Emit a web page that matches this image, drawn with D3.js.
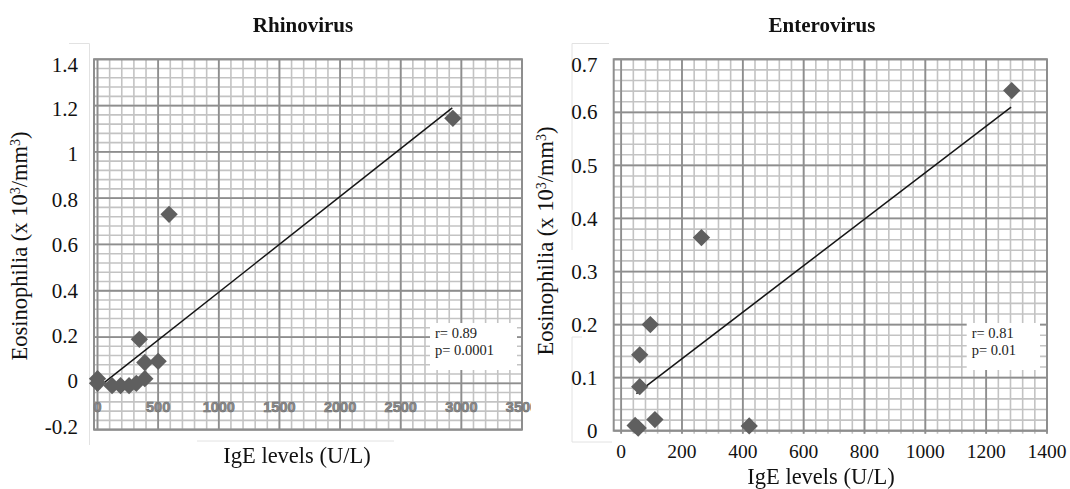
<!DOCTYPE html>
<html><head><meta charset="utf-8">
<script src="https://cdn.jsdelivr.net/npm/d3@7"></script>
<style>body{margin:0;background:#fff} svg{display:block}</style>
</head><body>
<svg id="chart" width="1070" height="489"></svg>
<script>
// ---------- data ----------
const rhinoIgE = [2930, 590, 345, 390, 500, 0, 0, 120, 190, 260, 320, 390];
const rhinoEos = [1.145, 0.73, 0.19, 0.09, 0.095, 0.02, 0.0, -0.01, -0.01, -0.01, 0.0, 0.02];
const rhinoTrendIgE = [0, 2925];
const rhinoTrendEos = [-0.02, 1.19];
const enteroIgE = [1284, 264, 96, 61, 61, 46, 56, 111, 421];
const enteroEos = [0.641, 0.364, 0.2, 0.143, 0.083, 0.01, 0.005, 0.021, 0.009];
const enteroTrendIgE = [50, 1282];
const enteroTrendEos = [0.07, 0.61];
const rhinoXTicks = [0, 500, 1000, 1500, 2000, 2500, 3000, 3500];
const rhinoYTicks = [1.4, 1.2, 1, 0.8, 0.6, 0.4, 0.2, 0, -0.2];
const enteroXTicks = [0, 200, 400, 600, 800, 1000, 1200, 1400];
const enteroYTicks = [0.7, 0.6, 0.5, 0.4, 0.3, 0.2, 0.1, 0];
const titles = ["Rhinovirus", "Enterovirus"];
const statLines = [["r= 0.89", "p= 0.0001"], ["r= 0.81", "p= 0.01"]];
const xTitle = "IgE levels (U/L)";

// ---------- layout ----------
const svg = d3.select("#chart");
const SERIF = "'Liberation Serif', 'Times New Roman', serif";
const defs = svg.append("defs");
defs.append("filter").attr("id", "soft").append("feGaussianBlur").attr("stdDeviation", 0.7);
defs.append("clipPath").attr("id", "clipL").append("rect")
  .attr("x", 0).attr("y", 0).attr("width", 531).attr("height", 489);

const panels = [
  {
    xs: rhinoIgE, ys: rhinoEos, tx: rhinoTrendIgE, ty: rhinoTrendEos,
    xTicks: rhinoXTicks, yTicks: rhinoYTicks, title: titles[0], stats: statLines[0],
    x: d3.scaleLinear().domain([-29, 3500]).range([94, 522]),
    y: d3.scaleLinear().domain([-0.2, 1.4]).range([429.6, 59.3]),
    yLab: d3.scaleLinear().domain([-0.2, 1.4]).range([426.7, 63.3]),
    xMajor: 500, xMinor: 100, yMajorN: 8, yMinorN: 40, yMin: -0.2, yMax: 1.4, xMax: 3500,
    yLabRight: 78, titleX: 303, xTitleX: 297, xTitleY: 463, yTitleX: 27, yTitleY: 246,
    box: [430, 323, 517, 370], tickExt: 0
  },
  {
    xs: enteroIgE, ys: enteroEos, tx: enteroTrendIgE, ty: enteroTrendEos,
    xTicks: enteroXTicks, yTicks: enteroYTicks, title: titles[1], stats: statLines[1],
    x: d3.scaleLinear().domain([-24.5, 1400]).range([613.7, 1047]),
    y: d3.scaleLinear().domain([0, 0.7]).range([430.7, 59.3]),
    yLab: d3.scaleLinear().domain([0, 0.7]).range([430.7, 59.3]),
    xMajor: 200, xMinor: 40, yMajorN: 7, yMinorN: 35, yMin: 0, yMax: 0.7, xMax: 1400,
    yLabRight: 597.5, titleX: 822, xTitleX: 821, xTitleY: 484, yTitleX: 553, yTitleY: 241,
    box: [966.7, 323, 1040, 370], tickExt: 3
  }
];

// faint chart-area borders (background artifacts of the original figure)
const faint = svg.append("g").attr("stroke", "#e2e2e2").attr("stroke-width", 1).attr("fill", "none");
[[69, 43.5, 89.5, 43.5], [89.5, 43.5, 89.5, 445], [197, 441, 394, 441],
 [572, 43.5, 609, 43.5], [572, 43.5, 572, 250], [572, 337, 582, 337], [572, 337, 572, 442], [572, 442, 612, 442]]
  .forEach(l => faint.append("line").attr("x1", l[0]).attr("y1", l[1]).attr("x2", l[2]).attr("y2", l[3]));

panels.forEach((p, pi) => {
  const g = svg.append("g");
  const [x0, x1] = p.x.range();
  const yTop = p.y(p.yMax), yBot = p.y(p.yMin);

  const minorX = d3.range(0, p.xMax / p.xMinor + 1).map(i => i * p.xMinor);
  const minorY = d3.range(0, p.yMinorN + 1).map(i => p.yMin + i * (p.yMax - p.yMin) / p.yMinorN);
  const majorX = d3.range(0, p.xMax / p.xMajor + 1).map(i => i * p.xMajor);
  const majorY = d3.range(0, p.yMajorN + 1).map(i => p.yMin + i * (p.yMax - p.yMin) / p.yMajorN);

  const grid = g.append("g");
  grid.selectAll(".mnx").data(minorX).join("line")
    .attr("x1", d => p.x(d)).attr("x2", d => p.x(d)).attr("y1", yTop).attr("y2", yBot + p.tickExt)
    .attr("stroke", "#c3c3c3").attr("stroke-width", 1.6);
  grid.selectAll(".mny").data(minorY).join("line")
    .attr("x1", x0).attr("x2", x1).attr("y1", d => p.y(d)).attr("y2", d => p.y(d))
    .attr("stroke", "#c3c3c3").attr("stroke-width", 1.6);
  grid.selectAll(".mjx").data(majorX).join("line")
    .attr("x1", d => p.x(d)).attr("x2", d => p.x(d)).attr("y1", yTop).attr("y2", yBot + p.tickExt)
    .attr("stroke", "#8e8e8e").attr("stroke-width", 1.8);
  grid.selectAll(".mjy").data(majorY).join("line")
    .attr("x1", x0).attr("x2", x1).attr("y1", d => p.y(d)).attr("y2", d => p.y(d))
    .attr("stroke", "#8e8e8e").attr("stroke-width", 1.8);
  g.append("rect").attr("x", x0).attr("y", yTop).attr("width", x1 - x0).attr("height", yBot - yTop)
    .attr("fill", "none").attr("stroke", "#8e8e8e").attr("stroke-width", 2);

  // stats box
  g.append("rect").attr("x", p.box[0]).attr("y", p.box[1])
    .attr("width", p.box[2] - p.box[0]).attr("height", p.box[3] - p.box[1]).attr("fill", "#fff");
  g.selectAll(".stat").data(p.stats).join("text")
    .attr("x", p.box[0] + 5).attr("y", (d, i) => 337.5 + i * 17.7)
    .attr("font-family", SERIF).attr("font-size", 14.5).attr("fill", "#222").text(d => d);

  // y tick labels
  g.selectAll(".yl").data(p.yTicks).join("text")
    .attr("x", p.yLabRight).attr("y", d => Math.max(p.yLab(d), 64.5)).attr("dy", "0.34em")
    .attr("text-anchor", "end").attr("font-family", SERIF).attr("font-size", 21).attr("fill", "#111")
    .text(d => String(d));

  // x tick labels
  if (pi === 0) {
    g.append("g").attr("clip-path", "url(#clipL)")
      .selectAll("text").data(p.xTicks).join("text")
      .attr("x", d => p.x(d)).attr("y", 411.5).attr("text-anchor", "middle")
      .attr("font-family", "'Liberation Sans', Arial, sans-serif").attr("font-weight", "bold")
      .attr("font-size", 14.5).attr("fill", "#8c8c8c").attr("stroke", "#6e6e6e").attr("stroke-width", 0.6)
      .text(d => String(d));
  } else {
    g.selectAll(".xl").data(p.xTicks).join("text")
      .attr("x", d => p.x(d)).attr("y", 458.3).attr("text-anchor", "middle")
      .attr("font-family", SERIF).attr("font-size", 19.5).attr("fill", "#111")
      .text(d => String(d));
  }

  // trend line
  const line = d3.line().x(d => p.x(d[0])).y(d => p.y(d[1]));
  g.append("path").datum(p.tx.map((v, i) => [v, p.ty[i]]))
    .attr("d", line).attr("fill", "none").attr("stroke", "#151515").attr("stroke-width", 1.5);

  // markers
  const sym = d3.symbol(d3.symbolSquare, 150);
  g.append("g").attr("filter", "url(#soft)")
    .selectAll("path").data(p.xs.map((v, i) => [v, p.ys[i]])).join("path")
    .attr("d", sym).attr("transform", d => `translate(${p.x(d[0])},${p.y(d[1])}) rotate(45)`)
    .attr("fill", "#5f5f5f");

  // titles
  g.append("text").attr("x", p.titleX).attr("y", 31.7).attr("text-anchor", "middle")
    .attr("font-family", SERIF).attr("font-weight", "bold").attr("font-size", 21).attr("fill", "#111")
    .text(p.title);
  g.append("text").attr("x", p.xTitleX).attr("y", p.xTitleY).attr("text-anchor", "middle")
    .attr("font-family", SERIF).attr("font-size", 22.5).attr("fill", "#111").text(xTitle);
  const yt = g.append("text").attr("transform", `translate(${p.yTitleX},${p.yTitleY}) rotate(-90)`)
    .attr("text-anchor", "middle").attr("font-family", SERIF).attr("font-size", 22.5).attr("fill", "#111");
  yt.append("tspan").text("Eosinophilia (x 10");
  yt.append("tspan").attr("font-size", 14).attr("baseline-shift", "super").text("3");
  yt.append("tspan").text("/mm");
  yt.append("tspan").attr("font-size", 14).attr("baseline-shift", "super").text("3");
  yt.append("tspan").text(")");
});
</script>
</body></html>
